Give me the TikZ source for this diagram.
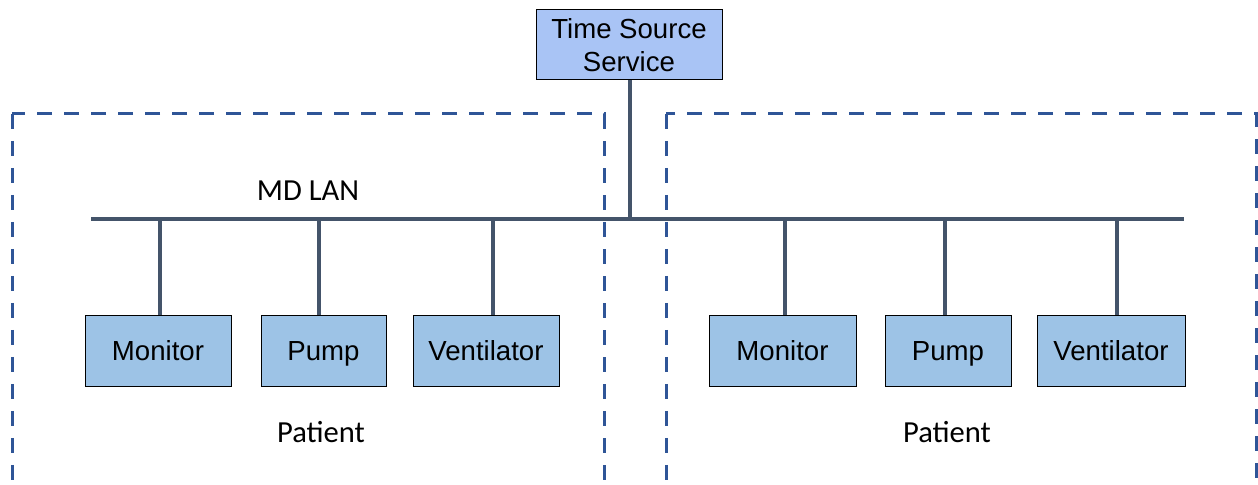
\documentclass[tikz,border=0pt]{standalone}
\usepackage{fontspec}
\setmainfont{Liberation Sans}
\newfontfamily\calib{Carlito}
\definecolor{busc}{RGB}{68,84,106}
\definecolor{dashc}{RGB}{47,85,151}
\definecolor{devfill}{RGB}{157,195,230}
\definecolor{tsfill}{RGB}{169,196,245}
\begin{document}
\begin{tikzpicture}[x=0.5pt,y=-0.5pt,
  dev/.style={draw=black,line width=0.5pt,fill=devfill,minimum width=#1*0.5pt,minimum height=35.5pt,inner sep=0pt,text height=11pt,text depth=2pt,font=\fontsize{13.8}{16}\selectfont},
  bus/.style={draw=busc,line width=2pt},
  zone/.style={draw=dashc,line width=1.5pt,dash pattern=on 7.5pt off 6pt},
  lbl/.style={font=\calib\fontsize{15.3}{18}\selectfont}]
\useasboundingbox (0,0) rectangle (1258,485);
% zones
\draw[zone] (12,114) rectangle (604,487);
\draw[zone] (666,114) rectangle (1256,487);
% time source
\node[draw=black,line width=0.5pt,fill=tsfill,minimum width=93pt,minimum height=35pt,inner sep=0pt,align=center,font=\fontsize{13.8}{16.5}\selectfont] (ts) at (629,45) {Time Source\\Service};
% bus
\coordinate (busL) at (91,219);
\coordinate (busR) at (1184,219);
\coordinate (busT) at (630,219);
\draw[bus] (busL) -- (busR);
\draw[bus] (ts.south -| busT) -- (busT);
\node[lbl] (mdlan) at (308,191) {MD LAN};
% devices left
\node[dev=146] (m1) at (158,351.5) {Monitor};
\node[dev=125] (p1) at (323.5,351.5) {Pump};
\node[dev=146] (v1) at (486,351.5) {Ventilator};
% devices right
\node[dev=147] (m2) at (782.5,351.5) {Monitor};
\node[dev=126] (p2) at (948,351.5) {Pump};
\node[dev=148] (v2) at (1111,351.5) {Ventilator};
% drops
\coordinate (d1) at (160,219);
\coordinate (d2) at (319,219);
\coordinate (d3) at (493,219);
\coordinate (d4) at (785,219);
\coordinate (d5) at (945,219);
\coordinate (d6) at (1117,219);
\draw[bus] (d1) -- (d1 |- m1.north);
\draw[bus] (d2) -- (d2 |- p1.north);
\draw[bus] (d3) -- (d3 |- v1.north);
\draw[bus] (d4) -- (d4 |- m2.north);
\draw[bus] (d5) -- (d5 |- p2.north);
\draw[bus] (d6) -- (d6 |- v2.north);
% patient labels
\node[lbl] (pat1) at (321,432) {Patient};
\node[lbl] (pat2) at (947,432) {Patient};
\end{tikzpicture}
\end{document}
